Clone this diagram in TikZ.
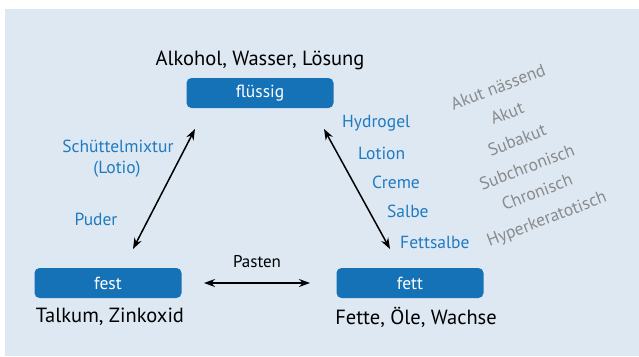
\documentclass[tikz,border=0pt]{standalone}
\usepackage{fontspec}
\setmainfont{PT Sans}
\usetikzlibrary{arrows.meta}
\definecolor{bgblue}{HTML}{DEE8F3}
\definecolor{boxblue}{HTML}{1672B6}
\definecolor{lblblue}{HTML}{1F7BC1}
\definecolor{stagegray}{HTML}{8A8A8A}
\tikzset{
  statebox/.style={fill=boxblue, rounded corners=5pt, minimum width=147pt, minimum height=30pt, inner sep=0pt, text=white, font=\fontsize{17.5}{20}\selectfont},
  blacklbl/.style={font=\fontsize{20.5}{24}\selectfont, text=black, inner sep=0pt},
  bluelbl/.style={font=\fontsize{17.5}{20}\selectfont, text=lblblue, inner sep=0pt},
  graylbl/.style={font=\fontsize{17.5}{20}\selectfont, text=stagegray, inner sep=0pt, rotate=21},
  dblarrow/.style={line width=1.5pt, {Stealth[length=11pt,width=8pt]}-{Stealth[length=11pt,width=8pt]}}
}
\begin{document}
\begin{tikzpicture}[x=1pt,y=-1pt]
\useasboundingbox (0,0) rectangle (639,356);
\fill[bgblue] (5,9) rectangle (639,356);
% state boxes
\node[statebox] (fl) at (260,93) {flüssig};
\node[statebox] (fe) at (108,283) {fest};
\node[statebox] (ft) at (410,283) {fett};
% black labels
\node[blacklbl] (t1) at (260,60) {Alkohol, Wasser, Lösung};
\node[blacklbl] (t2) at (110,317) {Talkum, Zinkoxid};
\node[blacklbl] (t3) at (416,317) {Fette, Öle, Wachse};
% arrow ends
\coordinate (a1) at (195,129);
\coordinate (a2) at (133,249);
\coordinate (b1) at (324,129);
\coordinate (b2) at (390,249);
\coordinate (c1) at (204,283);
\coordinate (c2) at (310,283);
\draw[dblarrow] (a1) -- (a2);
\draw[dblarrow] (b1) -- (b2);
\draw[dblarrow] (c1) -- (c2);
\node[font=\fontsize{17}{20}\selectfont, inner sep=0pt] (pa) at (257,262) {Pasten};
% blue labels
\node[bluelbl] (s1) at (118,146) {Schüttelmixtur};
\node[bluelbl] (s2) at (117,169) {(Lotio)};
\node[bluelbl] (s3) at (96,219) {Puder};
\node[bluelbl, anchor=west] (h1) at (342,123) {Hydrogel};
\node[bluelbl, anchor=west] (h2) at (358,153) {Lotion};
\node[bluelbl, anchor=west] (h3) at (372,182) {Creme};
\node[bluelbl, anchor=west] (h4) at (387,211) {Salbe};
\node[bluelbl, anchor=west] (h5) at (400,242) {Fettsalbe};
% gray stages
\node[graylbl] (g1) at (498,87) {Akut nässend};
\node[graylbl] (g2) at (507,113) {Akut};
\node[graylbl] (g3) at (517,140) {Subakut};
\node[graylbl] (g4) at (527,167) {Subchronisch};
\node[graylbl] (g5) at (537,192) {Chronisch};
\node[graylbl] (g6) at (547,220) {Hyperkeratotisch};
\end{tikzpicture}
\end{document}
